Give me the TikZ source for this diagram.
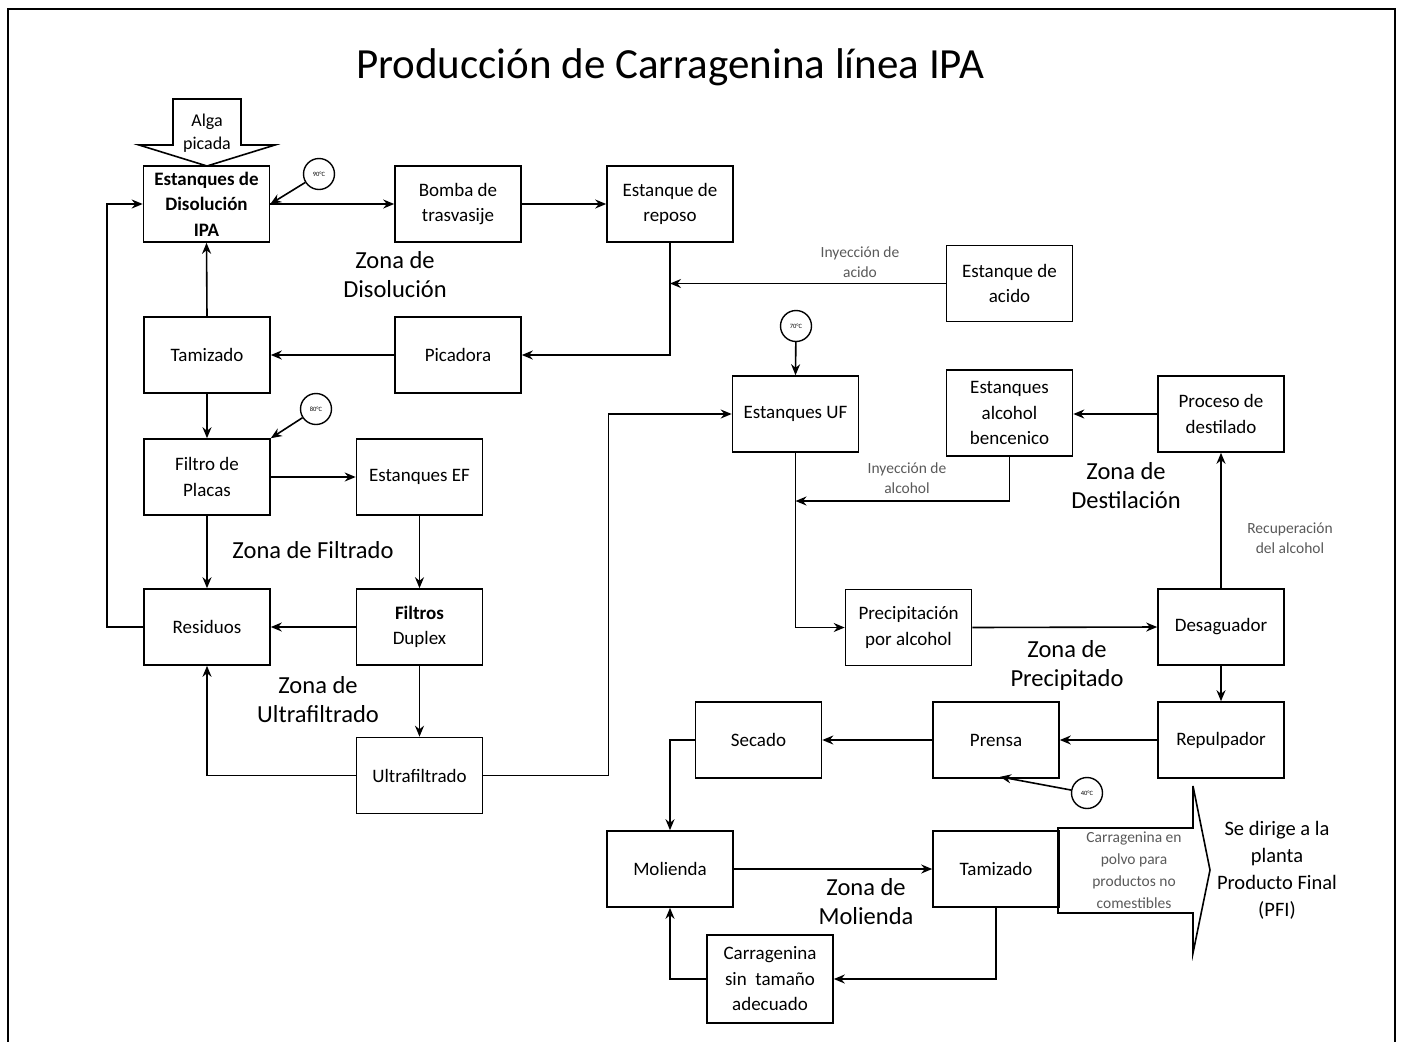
\documentclass[tikz,border=0pt]{standalone}
\usepackage{fontspec}
\setmainfont{Carlito}
\usepackage{xcolor}
\usetikzlibrary{calc, arrows.meta}
\definecolor{gristexto}{HTML}{595959}

\begin{document}
\begin{tikzpicture}[x=1pt, y=-1pt,
	caja/.style={draw, line width=1.6pt, minimum width=126pt, minimum height=76pt, align=center, inner sep=1pt, font=\fontsize{19}{25.5}\selectfont},
	flecha/.style={-{Stealth[length=11pt, width=9pt]}, line width=1.6pt},
	temp/.style={draw, circle, line width=1.4pt, minimum size=31pt, inner sep=0pt, font=\fontsize{6.5}{6.5}\selectfont},
	zona/.style={align=center, font=\fontsize{24.5}{29}\selectfont},
	nota/.style={align=center, text=gristexto, font=\fontsize{15.5}{20}\selectfont}]

	\useasboundingbox (0,0) rectangle (1401,1042);
	\draw[line width=2.5pt] (8,1042) -- (8,9) -- (1395,9) -- (1395,1042);

	\node[font=\fontsize{43}{46}\selectfont] (titulo) at (670,67) {Producción de Carragenina línea IPA};

	% zona de disolucion
	\node[caja, font=\fontsize{19}{25.5}\selectfont\bfseries] (disol) at (206.5,204) {Estanques de\\Disolución\\IPA};
	\node[caja] (bomba) at (458,204) {Bomba de\\trasvasije};
	\node[caja] (reposo) at (670,204) {Estanque de\\reposo};
	\node[caja] (acido) at (1009.5,283.5) {Estanque de\\acido};
	\node[caja] (tamiz1) at (207,355) {Tamizado};
	\node[caja] (picadora) at (458,355) {Picadora};

	% zona de filtrado
	\node[caja] (placas) at (207,477) {Filtro de\\Placas};
	\node[caja] (ef) at (419.5,477) {Estanques EF};
	\node[caja] (residuos) at (207,627) {Residuos};
	\node[caja] (duplex) at (419.5,627) {\textbf{Filtros}\\Duplex};
	\node[caja] (ultra) at (419.5,775.5) {Ultrafiltrado};

	% precipitado y destilacion
	\node[caja] (uf) at (795.5,414) {Estanques UF};
	\node[caja, minimum height=86pt] (bencen) at (1009.5,413) {Estanques\\alcohol\\bencenico};
	\node[caja] (destil) at (1221,414) {Proceso de\\destilado};
	\node[caja] (precip) at (908.5,627.5) {Precipitación\\por alcohol};
	\node[caja] (desag) at (1221,627) {Desaguador};
	\node[caja] (repulp) at (1221,740) {Repulpador};
	\node[caja] (prensa) at (996,740) {Prensa};
	\node[caja] (secado) at (758.5,740) {Secado};
	\node[caja] (molienda) at (670,869) {Molienda};
	\node[caja] (tamiz2) at (996,869) {Tamizado};
	\node[caja, minimum height=88pt] (sintam) at (770,979) {Carragenina\\sin~~tamaño\\adecuado};

	% temperaturas
	\node[temp] (t90) at (319,174) {90°C};
	\node[temp] (t80) at (316,409) {80°C};
	\node[temp] (t70) at (796,326) {70°C};
	\node[temp] (t40) at (1087,793) {40°C};

	% zonas
	\node[zona] (zdis) at (395,275) {Zona de\\Disolución};
	\node[zona] (zfil) at (313,550) {Zona de Filtrado};
	\node[zona] (zult) at (318,700) {Zona de\\Ultrafiltrado};
	\node[zona] (zdes) at (1126,486) {Zona de\\Destilación};
	\node[zona] (zpre) at (1067,665) {Zona de\\Precipitado};
	\node[zona] (zmol) at (866,902) {Zona de\\Molienda};

	% entradas y salidas
	\draw[line width=1.6pt] (173,99) -- (241,99) -- (241,145) -- (275,145) -- (207,166) -- (139,145) -- (173,145) -- cycle;
	\node[align=center, font=\fontsize{18}{23}\selectfont] (alga) at (207,133) {Alga\\picada};
	\draw[line width=1.6pt] (1058,828) -- (1193,828) -- (1193,786) -- (1210,870) -- (1193,953) -- (1193,913) -- (1058,913) -- cycle;
	\node[nota, font=\fontsize{15.5}{22}\selectfont] (polvo) at (1134,870) {Carragenina en\\polvo para\\productos no\\comestibles};
	\node[align=center, font=\fontsize{20.5}{27}\selectfont] (pfi) at (1277,870) {Se dirige a la\\planta\\Producto Final\\(PFI)};

	\node[nota] (iacido) at (860,262) {Inyección de\\acido};
	\node[nota] (ialcohol) at (907,478) {Inyección de\\alcohol};
	\node[nota] (recup) at (1290,538) {Recuperación\\del alcohol};

	\coordinate (jacido) at (acido.west -| reposo.south);
	\coordinate (jalcohol) at (uf.south |- 0,501);

	% conexiones
	\draw[flecha] (disol.east) -- (bomba.west);
	\draw[flecha] (bomba.east) -- (reposo.west);
	\draw[flecha] (reposo.south) |- (picadora.east);
	\draw[flecha] (acido.west) -- (jacido);
	\draw[flecha] (picadora.west) -- (tamiz1.east);
	\draw[flecha] (tamiz1.north) -- (disol.south);
	\draw[flecha] (tamiz1.south) -- (placas.north);
	\draw[flecha] (placas.east) -- (ef.west);
	\draw[flecha] (placas.south) -- (residuos.north);
	\draw[flecha] (ef.south) -- (duplex.north);
	\draw[flecha] (duplex.west) -- (residuos.east);
	\draw[flecha] (duplex.south) -- (ultra.north);
	\draw[flecha] (residuos.west) -- ++(-36,0) |- (disol.west);
	\draw[flecha] (ultra.west) -| (residuos.south);
	\draw[flecha] (ultra.east) -- ++(125,0) |- (uf.west);
	\draw[flecha] (uf.south) |- (precip.west);
	\draw[flecha] (bencen.south) |- (jalcohol);
	\draw[flecha] (destil.west) -- (destil.west -| bencen.east);
	\draw[flecha] (precip.east) -- (desag.west);
	\draw[flecha] (desag.north) -- (destil.south);
	\draw[flecha] (desag.south) -- (repulp.north);
	\draw[flecha] (repulp.west) -- (prensa.east);
	\draw[flecha] (prensa.west) -- (secado.east);
	\draw[flecha] (secado.west) -| (molienda.north);
	\draw[flecha] (molienda.east) -- (tamiz2.west);
	\draw[flecha] (tamiz2.south) |- (sintam.east);
	\draw[flecha] (sintam.west) -| (molienda.south);

	\draw[flecha] (t90) -- (disol.east);
	\draw[flecha] (t80) -- (placas.north east);
	\draw[flecha] (t70) -- (uf.north);
	\draw[flecha] (t40) -- ($(prensa.south)+(4,-2)$);
\end{tikzpicture}
\end{document}
